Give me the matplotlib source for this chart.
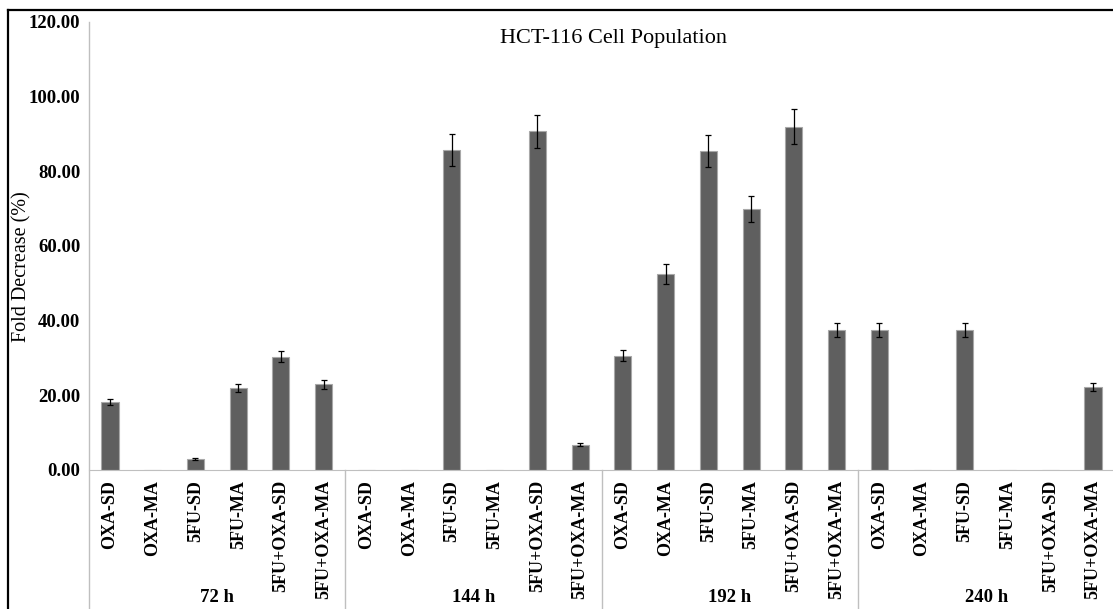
#!/usr/bin/env python3
"""HCT-116 cell population: fold decrease per treatment and time point."""

import matplotlib
matplotlib.use("Agg")
import matplotlib.pyplot as plt
import numpy as np
from matplotlib.lines import Line2D

treatments = ["OXA-SD", "OXA-MA", "5FU-SD", "5FU-MA", "5FU+OXA-SD", "5FU+OXA-MA"]
timepoints = ["72 h", "144 h", "192 h", "240 h"]

fold_72 = [18.2, 0.0, 3.0, 22.0, 30.3, 23.0]
fold_144 = [0.0, 0.0, 85.6, 0.0, 90.7, 6.8]
fold_192 = [30.6, 52.5, 85.4, 70.0, 92.0, 37.5]
fold_240 = [37.5, 0.0, 37.5, 0.0, 0.0, 22.2]

err_72 = [0.9, 0.0, 0.2, 1.1, 1.5, 1.2]
err_144 = [0.0, 0.0, 4.3, 0.0, 4.5, 0.4]
err_192 = [1.5, 2.6, 4.3, 3.5, 4.6, 1.9]
err_240 = [1.9, 0.0, 1.9, 0.0, 0.0, 1.1]

yticks = [0, 20, 40, 60, 80, 100, 120]

plt.rcParams["font.family"] = ["Liberation Serif", "DejaVu Serif"]

values = np.array(fold_72 + fold_144 + fold_192 + fold_240)
errors = np.array(err_72 + err_144 + err_192 + err_240)
labels = treatments * len(timepoints)
x = np.arange(len(values))

W, H = 1113, 609
fig = plt.figure(figsize=(W / 100, H / 100), dpi=100)
ax = fig.add_axes([88.6 / W, 139 / H, 1025.8 / W, 448 / H])

ax.bar(x, values, width=0.4, color="#5f5f5f", edgecolor="#a8a8a8", linewidth=0.8, zorder=2)
mask = values > 0
ax.errorbar(x[mask], values[mask], yerr=errors[mask], fmt="none", ecolor="black",
            elinewidth=0.9, capsize=2.5, capthick=0.9, zorder=3)

ax.set_xlim(-0.5, len(values) - 0.5)
ax.set_ylim(0, 120)
ax.set_yticks(yticks)
ax.set_yticklabels([f"{v:.2f}" for v in yticks], fontsize=13.5, fontweight="bold")
ax.set_xticks(x)
ax.set_xticklabels(labels, rotation=90, fontsize=13, fontweight="bold", va="top")
ax.tick_params(axis="both", length=0)
ax.tick_params(axis="y", pad=6)
ax.tick_params(axis="x", pad=7)

for side in ["top", "right", "left"]:
    ax.spines[side].set_visible(False)
ax.spines["bottom"].set_color("#bfbfbf")

# vertical axis line runs the full height, group separators only below the baseline
bottom_ax = -139 / 448
ax.axvline(-0.5, ymin=bottom_ax, ymax=1.0, color="#bfbfbf", linewidth=1.0, clip_on=False)
for sep in [5.5, 11.5, 17.5]:
    ax.axvline(sep, ymin=bottom_ax, ymax=0.0, color="#bfbfbf", linewidth=1.0, clip_on=False)

for i, tp in enumerate(timepoints):
    ax.text(i * 6 + 2.5, (11 - 139) / 448, tp, transform=ax.get_xaxis_transform(),
            ha="center", va="center", fontsize=13.5, fontweight="bold")

fig.text(614 / W, 1 - 38 / H, "HCT-116 Cell Population", ha="center", va="center", fontsize=16)
fig.text(22 / W, 1 - 267 / H, "Fold Decrease (%)", rotation=90, ha="center", va="center",
         fontsize=14.5)

# outer frame (only left and top edges are visible in the crop)
fig.add_artist(Line2D([8 / W, 8 / W], [0, 1 - 10 / H], color="black", linewidth=1.6))
fig.add_artist(Line2D([8 / W, 1], [1 - 10 / H, 1 - 10 / H], color="black", linewidth=1.6))

fig.savefig("out.png", dpi=100)
